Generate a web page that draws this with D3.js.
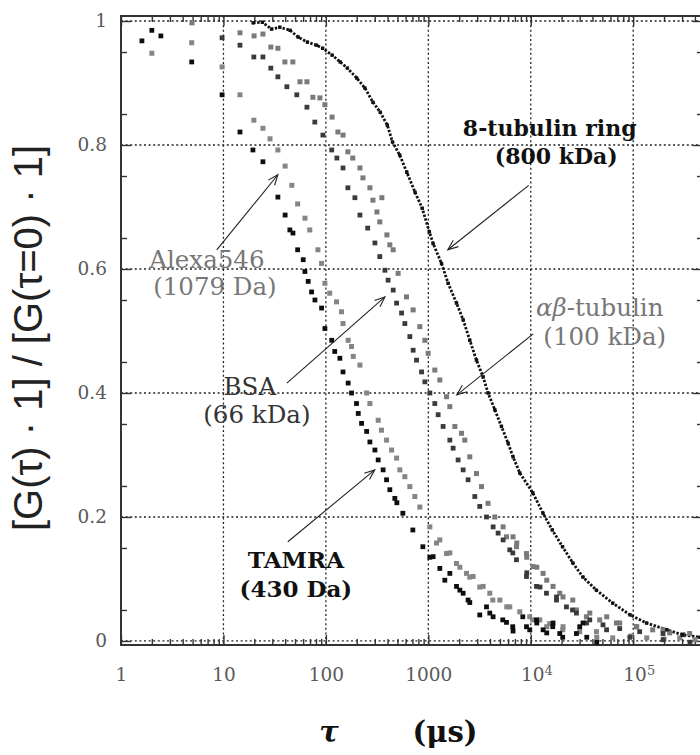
<!DOCTYPE html>
<html lang="en">
<head>
<meta charset="UTF-8" />
<title>FCS autocorrelation curves</title>
<script src="https://d3js.org/d3.v7.min.js"></script>
<style>
  body { margin: 0; background: #fff; }
  svg { display: block; background: #fff; }
  .grid line { stroke: #222; stroke-width: 1.3; stroke-dasharray: 2, 2.6; }
  .frame { fill: none; stroke: #333; stroke-width: 2; }
  .axis .domain { display: none; }
  .axis line { stroke: #333; stroke-width: 1.4; }
  .axis text { font-family: "DejaVu Serif", serif; font-size: 18.5px; fill: #5a5a5a; }
  .note { font-family: "DejaVu Serif", serif; font-size: 24px; text-anchor: middle; }
  .arrow { stroke: #222; stroke-width: 1.1; fill: none; }
</style>
</head>
<body>
<svg id="chart" width="700" height="755"></svg>
<script>
// ---------------------------------------------------------------
// data: [tau (us), normalised G]
// ---------------------------------------------------------------
const tamra = [
  [1.6, 0.968], [2.0, 0.985], [2.45, 0.976], [4.9, 0.934], [9.7, 0.881],
  [14.5, 0.821], [19.4, 0.792], [24.3, 0.773], [34, 0.716], [40, 0.687],
  [44.5, 0.663], [47.7, 0.658], [53, 0.631], [60.1, 0.615], [62.4, 0.596],
  [67.2, 0.580], [72.5, 0.563], [78.2, 0.550], [90.8, 0.537], [97.8, 0.504],
  [114, 0.485], [122, 0.467], [137, 0.456], [147, 0.434], [165, 0.416],
  [178, 0.400], [199, 0.383], [207, 0.367], [223, 0.351], [250, 0.338],
  [269, 0.321], [301, 0.308], [324, 0.292], [362, 0.276], [391, 0.260],
  [421, 0.244], [471, 0.230], [493, 0.223], [564, 0.206], [706, 0.179],
  [884, 0.152], [1035, 0.135], [1114, 0.136], [1295, 0.117], [1449, 0.098],
  [1622, 0.109], [1884, 0.088], [2030, 0.082], [2187, 0.077], [2445, 0.066],
  [2540, 0.062], [3178, 0.042], [3698, 0.055], [3980, 0.045], [4290, 0.039],
  [5330, 0.034], [5794, 0.030], [6670, 0.023], [6714, 0.016], [8360, 0.039],
  [9078, 0.023], [9775, 0.018], [11370, 0.034], [11450, 0.029], [13190, 0.018],
  [14320, 0.013], [16400, 0.023], [16500, 0.029], [19190, 0.012], [20500, 0.006],
  [27900, 0.012], [30060, 0.023], [32360, 0.029], [35200, 0.006], [44050, -0.002]
];

const alexa546 = [
  [2.0, 0.948], [4.9, 0.965], [9.7, 0.926], [14.5, 0.881], [19.8, 0.840],
  [24.3, 0.827], [28.5, 0.810], [34, 0.792], [40, 0.766], [46.5, 0.735],
  [53, 0.705], [62.5, 0.682], [69.6, 0.663], [83.6, 0.631], [90.8, 0.609],
  [97.8, 0.577], [109, 0.561], [127, 0.547], [142, 0.531], [147, 0.512],
  [165, 0.485], [178, 0.475], [185, 0.459], [215, 0.445], [250, 0.400],
  [269, 0.383], [324, 0.356], [349, 0.340], [391, 0.324], [438, 0.308],
  [490, 0.295], [527, 0.276], [590, 0.265], [660, 0.249], [738, 0.233],
  [826, 0.216], [1035, 0.184], [1202, 0.158], [1295, 0.163], [1506, 0.141],
  [1622, 0.142], [1884, 0.125], [2030, 0.119], [2360, 0.109], [2540, 0.103],
  [2736, 0.104], [3178, 0.087], [3427, 0.088], [3981, 0.077], [4260, 0.066],
  [4990, 0.066], [5830, 0.055], [6237, 0.055], [7810, 0.047], [9772, 0.039],
  [10470, 0.034], [12240, 0.034], [14320, 0.023], [15300, 0.028], [20500, 0.018],
  [20650, 0.023], [30060, 0.015], [43750, 0.015], [44050, 0.006], [63100, 0.005],
  [95000, 0.008], [135500, 0.005], [200000, 0.003], [284400, 0.005], [400000, 0.002]
];

const bsa = [
  [9.7, 0.973], [14.5, 0.961], [19.8, 0.942], [24.3, 0.942], [29, 0.924],
  [34, 0.910], [41.6, 0.894], [52, 0.881], [65.3, 0.861], [78, 0.837],
  [93.5, 0.816], [114, 0.792], [128, 0.779], [147, 0.763], [164, 0.731],
  [192, 0.715], [215, 0.687], [256, 0.666], [301, 0.642], [336, 0.620],
  [377, 0.598], [405, 0.582], [454, 0.566], [490, 0.545], [548, 0.529],
  [590, 0.512], [660, 0.491], [711, 0.469], [767, 0.453], [859, 0.434],
  [925, 0.418], [1035, 0.400], [1157, 0.383], [1247, 0.365], [1394, 0.346],
  [1622, 0.324], [1746, 0.311], [1953, 0.292], [2187, 0.276], [2445, 0.260],
  [2843, 0.233], [3178, 0.217], [3698, 0.200], [4290, 0.184], [4800, 0.174],
  [5370, 0.163], [6237, 0.147], [6680, 0.142], [7250, 0.131], [9078, 0.104],
  [9140, 0.110], [11370, 0.088], [12300, 0.087], [14230, 0.077], [17820, 0.066],
  [17830, 0.071], [22300, 0.055], [25560, 0.050], [27900, 0.045], [35050, 0.029],
  [37670, 0.034], [50700, 0.026], [54950, 0.018], [73800, 0.020], [92700, 0.006],
  [115600, 0.015], [195400, 0.012], [196000, 0.002], [306000, 0.010], [358000, -0.002]
];

const abTubulin = [
  [4.93, 0.997], [14.5, 0.981], [19.9, 0.976], [24.3, 0.979], [29, 0.958],
  [34, 0.956], [39.8, 0.934], [47.6, 0.934], [55.8, 0.902], [65.3, 0.902],
  [74.7, 0.877], [87.4, 0.876], [97.8, 0.865], [115, 0.845], [131, 0.821],
  [147, 0.816], [164, 0.789], [183, 0.779], [215, 0.763], [230, 0.747],
  [269, 0.731], [288, 0.711], [315, 0.692], [336, 0.676], [352, 0.715],
  [394, 0.655], [421, 0.639], [454, 0.631], [507, 0.593], [612, 0.555],
  [711, 0.534], [826, 0.507], [925, 0.485], [996, 0.464], [1157, 0.437],
  [1295, 0.421], [1506, 0.394], [1622, 0.378], [1815, 0.346], [2109, 0.335],
  [2270, 0.324], [2540, 0.297], [2951, 0.270], [3304, 0.249], [3828, 0.222],
  [4456, 0.200], [5370, 0.184], [5794, 0.168], [6714, 0.168], [7250, 0.152],
  [7300, 0.158], [9078, 0.141], [9140, 0.135], [10520, 0.120], [11450, 0.119],
  [13190, 0.109], [14320, 0.098], [16500, 0.088], [19190, 0.077], [20650, 0.071],
  [25700, 0.066], [27900, 0.050], [34930, 0.039], [37670, 0.045], [47100, 0.034],
  [55100, 0.039], [68550, 0.029], [73800, 0.029], [107400, 0.023], [108200, 0.023],
  [154900, 0.018], [195400, 0.018], [227000, 0.013], [355600, 0.012]
];

const ring8 = [
  [19.5, 0.997], [24, 0.998], [29.5, 0.987], [35.5, 0.990], [44.7, 0.985],
  [53.7, 0.974], [66, 0.966], [81, 0.961], [93, 0.956], [115, 0.945],
  [138, 0.934], [162, 0.924], [200, 0.908], [240, 0.892], [288, 0.869],
  [339, 0.853], [398, 0.832], [447, 0.805], [525, 0.784], [617, 0.756],
  [741, 0.724], [871, 0.698], [1023, 0.660], [1114, 0.641], [1345, 0.609],
  [1560, 0.577], [1884, 0.545], [2187, 0.518], [2540, 0.485], [2951, 0.453],
  [3427, 0.426], [3828, 0.400], [4456, 0.373], [5176, 0.346], [6012, 0.319],
  [6714, 0.297], [7810, 0.271], [10470, 0.239], [13180, 0.206], [16220, 0.179],
  [20420, 0.152], [25700, 0.126], [32360, 0.103], [43650, 0.082], [63100, 0.061],
  [93330, 0.042], [134900, 0.029], [213800, 0.018], [302000, 0.010], [446700, 0.006]
];

// axis ticks
const xMajor = [1, 10, 100, 1000, 10000, 100000];
const xTickBase = ["1", "10", "100", "1000", "10", "10"];
const xTickExp = ["", "", "", "", "4", "5"];
const yMajor = [0, 0.2, 0.4, 0.6, 0.8, 1];
const yTickLabels = ["0", "0.2", "0.4", "0.6", "0.8", "1"];

// annotation text lines, anchored in data units [tau, G]
const noteLines = [
  { text: "8-tubulin ring", at: [15300, 0.815], color: "#111", bold: true, size: 22 },
  { text: "(800 kDa)", at: [17750, 0.769], color: "#111", bold: true, size: 22 },
  { text: "-tubulin", italic: "αβ", at: [47100, 0.524], color: "#777" },
  { text: "(100 kDa)", at: [52700, 0.477], color: "#777" },
  { text: "Alexa546", at: [6.9, 0.602], color: "#777" },
  { text: "(1079 Da)", at: [8.26, 0.558], color: "#777" },
  { text: "BSA", at: [18.1, 0.397], color: "#333" },
  { text: "(66 kDa)", at: [21.2, 0.352], color: "#333" },
  { text: "TAMRA", at: [51, 0.118], color: "#111", bold: true, size: 23 },
  { text: "(430 Da)", at: [51, 0.071], color: "#111", bold: true, size: 23 }
];

// arrows: from label to curve, in data units
const arrows = [
  { from: [9550, 0.735], to: [1550, 0.631] },
  { from: [10500, 0.495], to: [1900, 0.397] },
  { from: [8.6, 0.631], to: [34, 0.752] },
  { from: [41.6, 0.416], to: [377, 0.555] },
  { from: [42.5, 0.160], to: [300, 0.276] }
];

// ---------------------------------------------------------------
const svg = d3.select("#chart");

const x = d3.scaleLog().domain([1, 480000]).range([121, 703]);
const y = d3.scaleLinear().domain([-0.0065, 1.0081]).range([645, 16]);
const [x0, x1] = x.range();
const [y0, y1] = y.range();

// minor tick values
const xMinor = [];
xMajor.forEach(d => {
  for (let k = 2; k <= 9; k++) if (d * k < 480000) xMinor.push(d * k);
});
const yMinor = d3.range(0.05, 1, 0.1);

// grid
const grid = svg.append("g").attr("class", "grid");
grid.selectAll(".gx")
  .data(xMajor.slice(1))
  .join("line")
  .attr("x1", d => x(d)).attr("x2", d => x(d))
  .attr("y1", y1).attr("y2", y0);
grid.selectAll(".gy")
  .data(yMajor)
  .join("line")
  .attr("class", "gy")
  .attr("x1", x0).attr("x2", x1)
  .attr("y1", d => y(d)).attr("y2", d => y(d));

// ticks on all four sides (pointing inward)
function ticks(axisFn, values, size, transform) {
  svg.append("g")
    .attr("class", "axis")
    .attr("transform", transform)
    .call(axisFn.tickValues(values).tickSize(-size).tickFormat(""));
}
ticks(d3.axisBottom(x), xMinor, 6, `translate(0,${y0})`);
ticks(d3.axisTop(x), xMinor, 6, `translate(0,${y1})`);
ticks(d3.axisBottom(x), xMajor, 10, `translate(0,${y0})`);
ticks(d3.axisTop(x), xMajor, 10, `translate(0,${y1})`);
ticks(d3.axisLeft(y), yMinor, 6, `translate(${x0},0)`);
ticks(d3.axisRight(y), yMinor, 6, `translate(${x1},0)`);
ticks(d3.axisLeft(y), yMajor, 10, `translate(${x0},0)`);
ticks(d3.axisRight(y), yMajor, 10, `translate(${x1},0)`);

// tick labels
const xLab = svg.append("g")
  .attr("class", "axis")
  .attr("transform", `translate(0,${y0})`)
  .call(d3.axisBottom(x).tickValues(xMajor).tickSize(0).tickPadding(23).tickFormat(""));
xLab.selectAll(".tick text").each(function (d, i) {
  const t = d3.select(this);
  t.text(xTickBase[i]);
  if (xTickExp[i]) {
    t.append("tspan")
      .attr("dy", "-0.45em")
      .style("font-size", "13px")
      .text(xTickExp[i]);
    t.attr("dx", "0.3em");
  }
});

svg.append("g")
  .attr("class", "axis")
  .attr("transform", `translate(${x0},0)`)
  .call(d3.axisLeft(y).tickValues(yMajor).tickSize(0).tickPadding(14)
    .tickFormat((d, i) => yTickLabels[i]));

// frame (right edge falls just outside the page)
svg.append("rect")
  .attr("class", "frame")
  .attr("x", x0).attr("y", y1)
  .attr("width", x1 - x0).attr("height", y0 - y1);

// ---------------------------------------------------------------
// data points
const series = [
  { data: alexa546, color: "#858585", size: 5 },
  { data: abTubulin, color: "#7a7a7a", size: 5 },
  { data: bsa, color: "#3a3a3a", size: 4.8 },
  { data: tamra, color: "#0e0e0e", size: 4.8 },
  { data: ring8, color: "#111", size: 3.4 }
];

const plot = svg.append("g");

// 8-tubulin ring is sampled densely: show it as a chain of dots
plot.append("path")
  .datum(ring8)
  .attr("fill", "none")
  .attr("stroke", "#111")
  .attr("stroke-width", 2.8)
  .attr("stroke-dasharray", "2.4,1.6")
  .attr("d", d3.line().x(d => x(d[0])).y(d => y(d[1])));

series.forEach(s => {
  plot.append("g")
    .selectAll("rect")
    .data(s.data)
    .join("rect")
    .attr("x", d => x(d[0]) - s.size / 2)
    .attr("y", d => y(d[1]) - s.size / 2)
    .attr("width", s.size)
    .attr("height", s.size)
    .attr("fill", s.color);
});

// ---------------------------------------------------------------
// annotations
const notes = svg.append("g");
noteLines.forEach(n => {
  const t = notes.append("text")
    .attr("class", "note")
    .attr("x", x(n.at[0]))
    .attr("y", y(n.at[1]))
    .attr("fill", n.color)
    .style("font-size", (n.size || 24.5) + "px")
    .style("font-weight", n.bold ? "bold" : "normal");
  if (n.italic) t.append("tspan").style("font-style", "italic").text(n.italic);
  t.append("tspan").text(n.text);
});

arrows.forEach(a => {
  const fx = x(a.from[0]), fy = y(a.from[1]);
  const tx = x(a.to[0]), ty = y(a.to[1]);
  const ang = Math.atan2(ty - fy, tx - fx);
  const len = 11, spread = 0.38;
  const head = [ang + Math.PI - spread, ang + Math.PI + spread]
    .map(b => [tx + len * Math.cos(b), ty + len * Math.sin(b)]);
  notes.append("line").attr("class", "arrow")
    .attr("x1", fx).attr("y1", fy).attr("x2", tx).attr("y2", ty);
  notes.append("path").attr("class", "arrow")
    .attr("stroke-width", 1.4)
    .attr("d", `M${head[0]}L${tx},${ty}L${head[1]}`);
});

// ---------------------------------------------------------------
// axis titles
svg.append("text")
  .attr("transform", `translate(42,338) rotate(-90)`)
  .attr("text-anchor", "middle")
  .style("font-family", "'Liberation Sans', Arial, sans-serif")
  .style("font-size", "40px")
  .attr("fill", "#222")
  .text("[G(τ) · 1] / [G(τ=0) · 1]");

const xt = svg.append("g")
  .style("font-family", "'DejaVu Serif', serif")
  .style("font-weight", "bold")
  .style("font-size", "29px")
  .attr("fill", "#111");
xt.append("text").attr("x", 329).attr("y", 742)
  .attr("text-anchor", "middle").style("font-style", "italic").text("τ");
xt.append("text").attr("x", 445).attr("y", 742)
  .attr("text-anchor", "middle").text("(μs)");
</script>
</body>
</html>
